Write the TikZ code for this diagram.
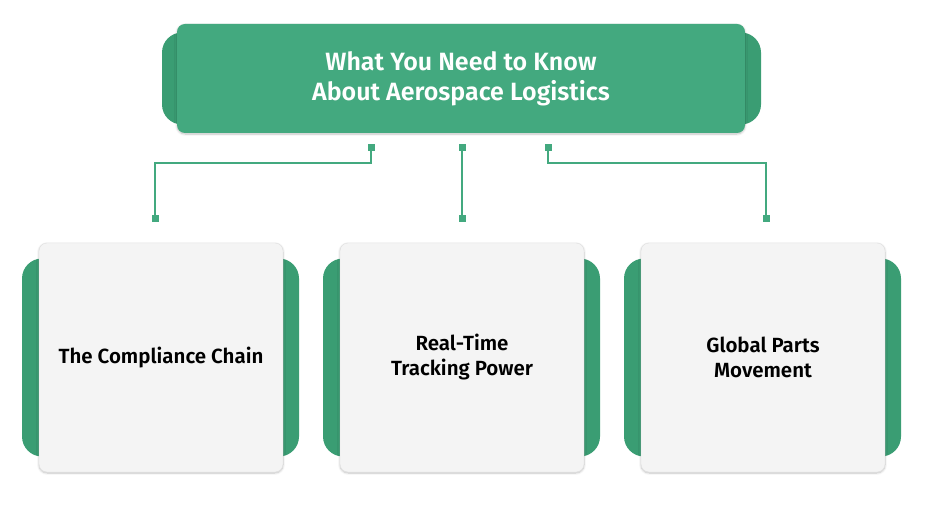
\documentclass[tikz,border=0pt]{standalone}
\usepackage{fontspec}
\setmainfont{Fira Sans}[BoldFont={Fira Sans SemiBold}]
\usetikzlibrary{positioning, shadows.blur}

\definecolor{leaf}{HTML}{43A97F}
\definecolor{leafdark}{HTML}{3A9D73}
\definecolor{cardgray}{HTML}{F4F4F4}

\begin{document}
\begin{tikzpicture}[
  x=1pt, y=-1pt,
  backtab/.style = {fill=leafdark, rounded corners=20pt, inner sep=0pt},
  titlebox/.style = {fill=leaf, rounded corners=8pt, minimum width=568pt, minimum height=109pt,
    align=center, text=white, font=\fontsize{25}{30}\selectfont\bfseries,
    blur shadow={shadow blur steps=6, shadow xshift=0pt, shadow yshift=-1pt, shadow opacity=25}},
  card/.style = {fill=cardgray, draw=black!12, rounded corners=8pt, minimum width=244pt, minimum height=229pt,
    align=center, font=\fontsize{20.5}{25}\selectfont\bfseries,
    blur shadow={shadow blur steps=6, shadow xshift=0pt, shadow yshift=-1pt, shadow opacity=25}},
  pin/.style = {fill=leaf, minimum size=7pt, inner sep=0pt},
  wire/.style = {draw=leaf, line width=1.5pt}
]
  \useasboundingbox (0,0) rectangle (925,521);

  % Title
  \node[backtab, minimum width=599pt, minimum height=92pt] (titleback) at (461.5,78.5) {};
  \node[titlebox] (title) at (461,78.5) {What You Need to Know\\About Aerospace Logistics};

  % Cards
  \node[backtab, minimum width=277pt, minimum height=198pt] (compback) at (160.5,357.5) {};
  \node[card] (compliance) at (161,357.5) {The Compliance Chain};
  \node[backtab, minimum width=277pt, minimum height=198pt] (trackback) at (461.5,357.5) {};
  \node[card] (tracking) at (462,357.5) {Real-Time\\Tracking Power};
  \node[backtab, minimum width=277pt, minimum height=198pt] (partsback) at (762.5,357.5) {};
  \node[card] (parts) at (763,357.5) {Global Parts\\Movement};

  % Pins
  \node[pin] (pinl) at (371,148) {};
  \node[pin] (pinm) at (462,148) {};
  \node[pin] (pinr) at (548,148) {};
  \node[pin] (endl) at (155,219) {};
  \node[pin] (endm) at (462,219) {};
  \node[pin] (endr) at (766,219) {};

  % Connections
  \draw[wire] (pinl.center) -- ++(0,15) -| (endl.center);
  \draw[wire] (pinm.center) -- (endm.center);
  \draw[wire] (pinr.center) -- ++(0,15) -| (endr.center);
\end{tikzpicture}
\end{document}
